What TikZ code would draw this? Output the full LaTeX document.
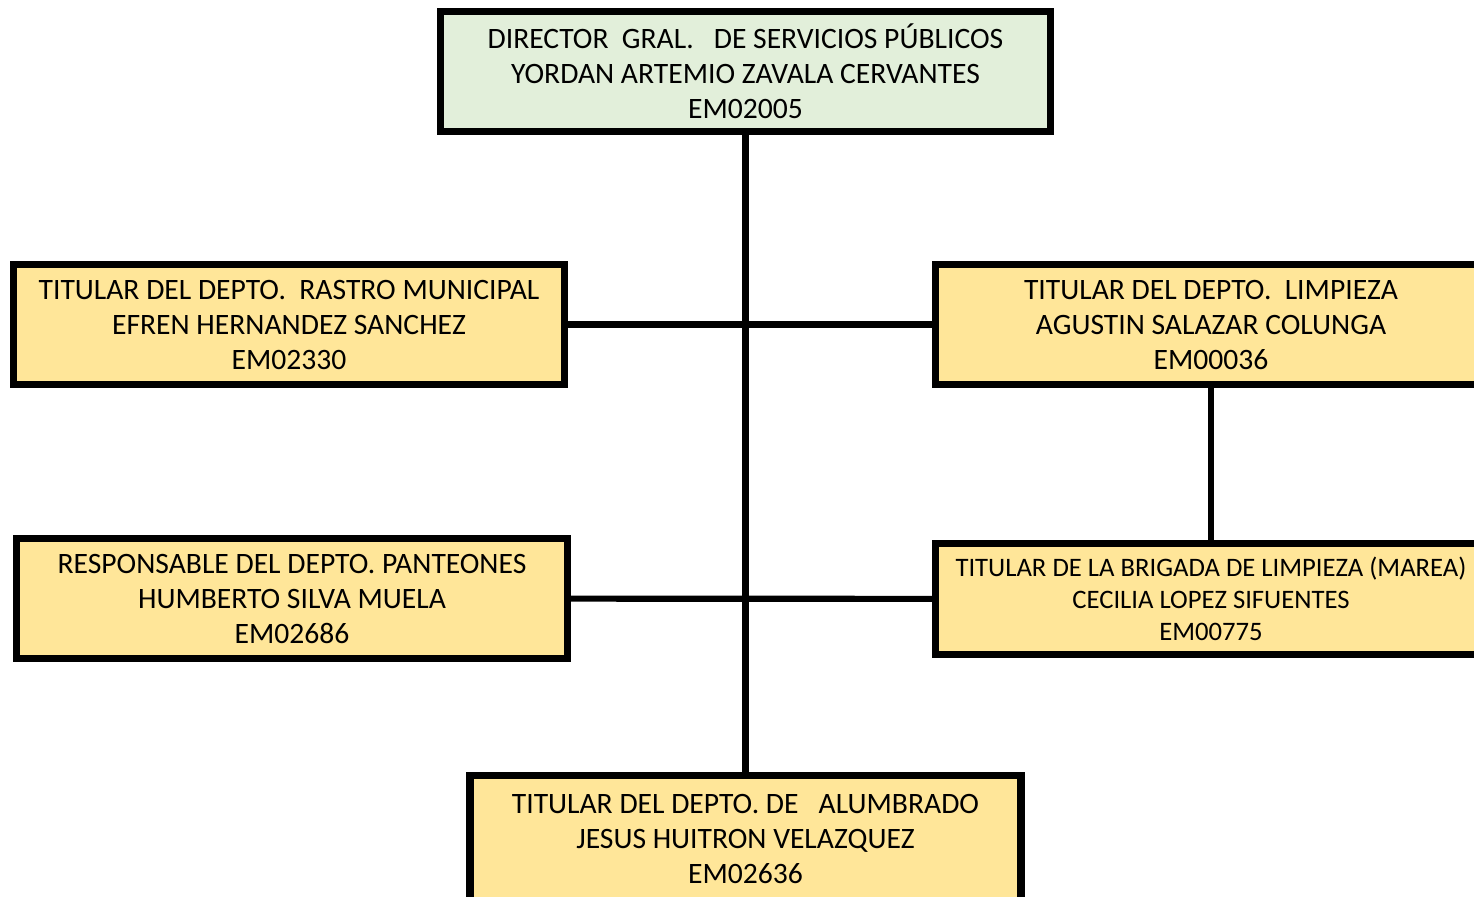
\documentclass[tikz,border=0pt]{standalone}
\usepackage{fontspec}
\setmainfont{Carlito}
\usepackage{tikz}
\usetikzlibrary{shapes}
\definecolor{verdeclaro}{HTML}{E2EFDA}
\definecolor{amarillo}{HTML}{FFE699}
\tikzstyle{puesto} = [rectangle, draw, line width=5.4pt, fill=amarillo,
    minimum width=413.25pt, minimum height=90pt, align=center,
    font=\fontsize{22.2}{26.25}\selectfont, inner sep=0pt]
\tikzstyle{linea} = [line width=4.6pt]

\begin{document}
\begin{tikzpicture}[x=0.75pt,y=-0.75pt]
  \useasboundingbox (0,0) rectangle (1474,896);
  \node[puesto,fill=verdeclaro,minimum width=457.5pt] (dir) at (745.5,71.5)
    {DIRECTOR\ \ GRAL.\ \ \ DE SERVICIOS PÚBLICOS\\YORDAN ARTEMIO ZAVALA CERVANTES\\EM02005};
  \node[puesto] (rastro)    at (289,324.5)  {TITULAR DEL DEPTO.\ \ RASTRO MUNICIPAL\\EFREN HERNANDEZ SANCHEZ\\EM02330};
  \node[puesto] (limpieza)  at (1211,324.5) {TITULAR DEL DEPTO.\ \ LIMPIEZA\\AGUSTIN SALAZAR COLUNGA\\EM00036};
  \node[puesto] (panteones) at (292,598.5)  {RESPONSABLE DEL DEPTO. PANTEONES\\HUMBERTO SILVA MUELA\\EM02686};
  \node[puesto,minimum height=83.25pt,font=\fontsize{20}{24}\selectfont]
                (brigada)   at (1211,599)   {TITULAR DE LA BRIGADA DE LIMPIEZA (MAREA)\\CECILIA LOPEZ SIFUENTES\\EM00775};
  \node[puesto,minimum height=95pt] (alumbrado) at (745.5,839) {TITULAR DEL DEPTO. DE\ \ \ ALUMBRADO\\JESUS HUITRON VELAZQUEZ\\EM02636};

  \draw[linea] (dir) -- (alumbrado);
  \draw[linea] (rastro) -- (limpieza);
  \draw[linea] (panteones) -- (brigada);
  \draw[linea] (limpieza) -- (brigada);
\end{tikzpicture}
\end{document}
